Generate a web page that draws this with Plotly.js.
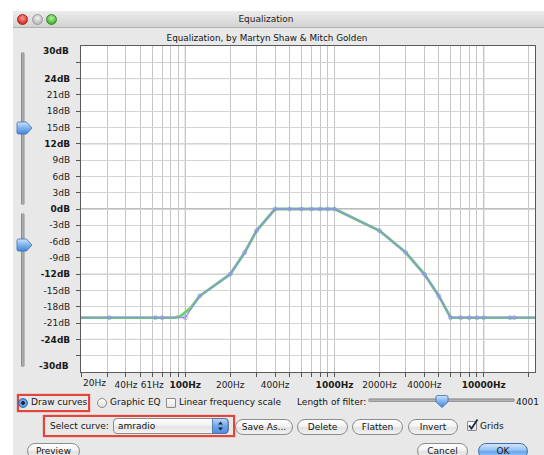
<!DOCTYPE html>
<html><head><meta charset="utf-8">
<script src="https://cdn.plot.ly/plotly-3.0.1.min.js"></script>
<style>
html,body{margin:0;padding:0;width:544px;height:455px;overflow:hidden;background:#fff;font-family:"DejaVu Sans",sans-serif;}
#win{position:absolute;left:13px;top:11px;width:540px;height:450px;background:#e8e8e8;}
#titlebar{position:absolute;left:13px;top:11px;width:540px;height:16px;background:linear-gradient(#ececec,#d2d2d2);border-bottom:1px solid #b0b0b0;}
#plot{position:absolute;left:0;top:0;width:544px;height:455px;z-index:1;}
.abs{position:absolute;white-space:nowrap;z-index:2;}
.t9{font-size:9px;color:#141414;line-height:12px;}
.light{width:11px;height:11px;border-radius:50%;position:absolute;top:14px;z-index:2;box-sizing:border-box;}
.btn{position:absolute;z-index:2;box-sizing:border-box;height:16px;border:1px solid #8c8c8c;border-radius:8px;background:linear-gradient(#ffffff,#f3f3f3 45%,#e2e2e2 55%,#f2f2f2);font-size:9px;line-height:14px;text-align:center;color:#141414;}
.redbox{position:absolute;z-index:2;box-sizing:border-box;border:2px solid #e2453b;box-shadow:0 0 1px #e2453b;}
.radio{position:absolute;z-index:3;width:10px;height:10px;border-radius:50%;box-sizing:border-box;border:1px solid #8a8a8a;background:linear-gradient(#fff,#dedede);}
.check{position:absolute;z-index:3;width:10px;height:10px;box-sizing:border-box;border:1px solid #8a8a8a;background:linear-gradient(#fff,#e4e4e4);border-radius:1px;}
</style></head>
<body>
<div id="win"></div>
<div id="titlebar"></div>
<div class="light" style="left:17px;background:radial-gradient(circle at 50% 35%,#ff9a90,#d8322b 70%);border:1px solid #a42620;"></div>
<div class="light" style="left:32px;background:radial-gradient(circle at 50% 35%,#f2f2f2,#bdbdbd 70%);border:1px solid #9a9a9a;"></div>
<div class="light" style="left:46px;background:radial-gradient(circle at 50% 35%,#b8f0a0,#4db43a 70%);border:1px solid #3a8a2a;"></div>
<div class="abs" style="left:0;width:532px;top:13px;text-align:center;font-size:9px;line-height:12px;color:#222;">Equalization</div>
<div class="abs" style="left:0;width:534px;top:32px;text-align:center;font-size:8.8px;line-height:12px;color:#141414;">Equalization, by Martyn Shaw &amp; Mitch Golden</div>

<!-- left vertical sliders -->
<svg class="abs" style="left:0;top:0;" width="40" height="380">
  <defs>
    <linearGradient id="trk" x1="0" x2="1" y1="0" y2="0"><stop offset="0" stop-color="#7d7d7d"/><stop offset="0.5" stop-color="#b5b5b5"/><stop offset="1" stop-color="#8a8a8a"/></linearGradient>
    <linearGradient id="thb" x1="0" x2="0" y1="0" y2="1"><stop offset="0" stop-color="#cfe3fb"/><stop offset="0.5" stop-color="#7fb2ee"/><stop offset="1" stop-color="#3f86df"/></linearGradient>
  </defs>
  <rect x="21" y="52" width="3.5" height="153" rx="1.7" fill="url(#trk)"/>
  <rect x="21" y="213" width="3.5" height="154" rx="1.7" fill="url(#trk)"/>
  <path d="M18.5 122 h8 l5.5 6 l-5.5 6 h-8 a1.5 1.5 0 0 1 -1.5 -1.5 v-9 a1.5 1.5 0 0 1 1.5 -1.5z" fill="url(#thb)" stroke="#3c6db0" stroke-width="0.8"/>
  <path d="M18.5 239 h8 l5.5 6 l-5.5 6 h-8 a1.5 1.5 0 0 1 -1.5 -1.5 v-9 a1.5 1.5 0 0 1 1.5 -1.5z" fill="url(#thb)" stroke="#3c6db0" stroke-width="0.8"/>
</svg>

<div id="plot"></div>

<!-- Row 1 -->
<div class="redbox" style="left:17px;top:394px;width:73px;height:18px;"></div>
<div class="radio" style="left:18px;top:398px;background:radial-gradient(circle,#1a2a40 0 1.6px,#6fa8ec 2.2px,#3b7fd6 100%);border-color:#3a68a8;"></div>
<div class="abs t9" style="left:31px;top:396px;">Draw curves</div>
<div class="radio" style="left:97px;top:398px;"></div>
<div class="abs t9" style="left:110px;top:396px;">Graphic EQ</div>
<div class="check" style="left:166px;top:398px;"></div>
<div class="abs t9" style="left:179px;top:396px;">Linear frequency scale</div>
<div class="abs t9" style="left:297px;top:396px;">Length of filter:</div>
<svg class="abs" style="left:360px;top:390px;" width="184" height="24">
  <defs>
    <linearGradient id="htrk" x1="0" x2="0" y1="0" y2="1"><stop offset="0" stop-color="#7d7d7d"/><stop offset="0.5" stop-color="#b8b8b8"/><stop offset="1" stop-color="#8a8a8a"/></linearGradient>
    <linearGradient id="hthb" x1="0" x2="0" y1="0" y2="1"><stop offset="0" stop-color="#cfe3fb"/><stop offset="0.5" stop-color="#7fb2ee"/><stop offset="1" stop-color="#3f86df"/></linearGradient>
  </defs>
  <rect x="8" y="8.5" width="147" height="3.5" rx="1.7" fill="url(#htrk)"/>
  <path d="M76 7 a1.5 1.5 0 0 1 1.5 -1.5 h9 a1.5 1.5 0 0 1 1.5 1.5 v5 l-6 5.5 l-6 -5.5z" fill="url(#hthb)" stroke="#3c6db0" stroke-width="0.8"/>
</svg>
<div class="abs t9" style="left:516px;top:396px;">4001</div>

<!-- Row 2 -->
<div class="redbox" style="left:43px;top:415px;width:192px;height:22px;"></div>
<div class="abs t9" style="left:50px;top:420px;">Select curve:</div>
<div class="abs" style="left:113px;top:418px;width:116px;height:16px;box-sizing:border-box;border:1px solid #8c8c8c;border-radius:4px;background:linear-gradient(#ffffff,#f2f2f2 45%,#e3e3e3 55%,#f3f3f3);"></div>
<div class="abs t9" style="left:118px;top:420px;">amradio</div>
<svg class="abs" style="left:212px;top:418px;z-index:3;" width="17" height="16">
  <defs><linearGradient id="pop" x1="0" x2="0" y1="0" y2="1"><stop offset="0" stop-color="#bcd8fa"/><stop offset="0.5" stop-color="#6ea6ea"/><stop offset="1" stop-color="#4b8fe3"/></linearGradient></defs>
  <path d="M0.5 0.5 h12 a3.5 3.5 0 0 1 3.5 3.5 v8 a3.5 3.5 0 0 1 -3.5 3.5 h-12z" fill="url(#pop)" stroke="#49699a" stroke-width="0.8"/>
  <path d="M6 6.5 l2.5 -3 l2.5 3z M6 9.5 l2.5 3 l2.5 -3z" fill="#1d2430"/>
</svg>
<div class="btn" style="left:235px;top:419px;width:58px;">Save As...</div>
<div class="btn" style="left:297px;top:419px;width:51px;">Delete</div>
<div class="btn" style="left:352px;top:419px;width:51px;">Flatten</div>
<div class="btn" style="left:408px;top:419px;width:50px;">Invert</div>
<div class="check" style="left:467px;top:421px;"></div>
<svg class="abs" style="left:466px;top:418px;z-index:4;" width="14" height="14"><path d="M3 7.5 l2.5 3 l6 -9" fill="none" stroke="#1b2a4a" stroke-width="1.8"/></svg>
<div class="abs t9" style="left:480px;top:420px;">Grids</div>

<!-- Row 3 -->
<div class="btn" style="left:27px;top:443px;width:53px;">Preview</div>
<div class="btn" style="left:417px;top:443px;width:51px;">Cancel</div>
<div class="btn" style="left:478px;top:443px;width:50px;border-color:#3e6fb6;background:linear-gradient(#d4e6fc,#93c0f3 45%,#6aa5ee 55%,#a9d0f8);">OK</div>

<script>
// frequency grid (Hz) and tick labels
const gridFreqs = [20,30,40,50,60,70,80,90,100,200,300,400,500,600,700,800,900,1000,2000,3000,4000,5000,6000,7000,8000,9000,10000,20000];
const freqLabels = ["","","40Hz","","61Hz","","","","<b>100Hz</b>","200Hz","","400Hz","","","","","","<b>1000Hz</b>","2000Hz","","4000Hz","","","","","","<b>10000Hz</b>",""];
const decadeFreqs = [100,1000,10000];
// dB ticks
const dbTicks = [-27,-24,-21,-18,-15,-12,-9,-6,-3,0,3,6,9,12,15,18,21,24,27];
const dbLabels = ["","<b>-24dB</b>","-21dB","-18dB","-15dB","<b>-12dB</b>","-9dB","-6dB","-3dB","<b>0dB</b>","3dB","6dB","9dB","<b>12dB</b>","15dB","18dB","21dB","<b>24dB</b>",""];
const majorDb = [-24,-12,12,24];
// drawn curve control points ("amradio")
const curveFreqs = [20,31,63,70,100,125,200,250,300,400,500,600,700,800,900,1000,2000,3000,4000,5000,6000,7000,8000,9000,10000,15000,16000,22050];
const curveDb    = [-20,-20,-20,-20,-20,-16,-12,-8,-4,0,0,0,0,0,0,0,-4,-8,-12,-16,-20,-20,-20,-20,-20,-20,-20,-20];
// actual filter response (green)
const respFreqs = [20,85,93,100,108,125,200,250,300,400,1000,2000,3000,4000,5000,6000,22050];
const respDb    = [-20,-20,-19.7,-19.1,-18.3,-16,-12,-8,-4,0,0,-4,-8,-12,-16,-20,-20];

const FONT = "DejaVu Sans";
const xr = [Math.log10(20), Math.log10(22050)];
const shapes = [];
decadeFreqs.forEach(f => shapes.push({type:'line', xref:'x', yref:'paper', x0:f, x1:f, y0:0, y1:1, layer:'between', line:{color:'#9d9d9d', width:1}}));
majorDb.forEach(d => shapes.push({type:'line', xref:'paper', yref:'y', x0:0, x1:1, y0:d, y1:d, layer:'between', line:{color:'#a8a8a8', width:1}}));
shapes.push({type:'line', xref:'paper', yref:'y', x0:0, x1:1, y0:0, y1:0, layer:'between', line:{color:'#7a7a7a', width:1}});

const markerSizes = curveFreqs.map((f,i) => (i===0 || i===curveFreqs.length-1) ? 0 : 4);

const data = [
  {x: respFreqs, y: respDb, type:'scatter', mode:'lines', line:{color:'#6fcd6f', width:2.9}, hoverinfo:'skip'},
  {x: curveFreqs, y: curveDb, type:'scatter', mode:'lines+markers', line:{color:'#8e8ff0', width:1.3},
   marker:{symbol:'circle-open', size:markerSizes, color:'#8e8ff0', line:{width:1}}, hoverinfo:'skip'}
];

const layout = {
  width:544, height:455,
  margin:{l:81, r:9, t:46, b:83},
  paper_bgcolor:'rgba(0,0,0,0)', plot_bgcolor:'#ffffff',
  showlegend:false,
  xaxis:{type:'log', range:xr, tickmode:'array', tickvals:gridFreqs, ticktext:freqLabels,
    showgrid:true, gridcolor:'#c6c6c6', gridwidth:1, zeroline:false,
    ticks:'outside', ticklen:4, tickcolor:'#555', showline:true, linecolor:'#5a5a5a', linewidth:1, mirror:true,
    tickfont:{family:FONT, size:9, color:'#1a1a1a'}, fixedrange:true},
  yaxis:{range:[-30,30], tickmode:'array', tickvals:dbTicks, ticktext:dbLabels,
    showgrid:true, gridcolor:'#d4d4d4', gridwidth:1, zeroline:false,
    ticks:'outside', ticklen:4, tickcolor:'#555', showline:true, linecolor:'#5a5a5a', linewidth:1, mirror:true,
    ticklabelstandoff:4,
    tickfont:{family:FONT, size:9, color:'#1a1a1a'}, fixedrange:true},
  shapes: shapes,
  annotations:[
    {text:'20Hz', xref:'paper', yref:'paper', x:0, y:-0.033, xanchor:'left', yanchor:'middle', showarrow:false, font:{family:FONT, size:9, color:'#1a1a1a'}},
    {text:'<b>30dB</b>', xref:'paper', yref:'paper', x:0, xshift:-10, y:0.984, xanchor:'right', yanchor:'middle', showarrow:false, font:{family:FONT, size:9, color:'#1a1a1a'}},
    {text:'<b>-30dB</b>', xref:'paper', yref:'paper', x:0, xshift:-10, y:0.017, xanchor:'right', yanchor:'middle', showarrow:false, font:{family:FONT, size:9, color:'#1a1a1a'}}
  ]
};
Plotly.newPlot('plot', data, layout, {displayModeBar:false, staticPlot:true});
</script>
</body></html>
